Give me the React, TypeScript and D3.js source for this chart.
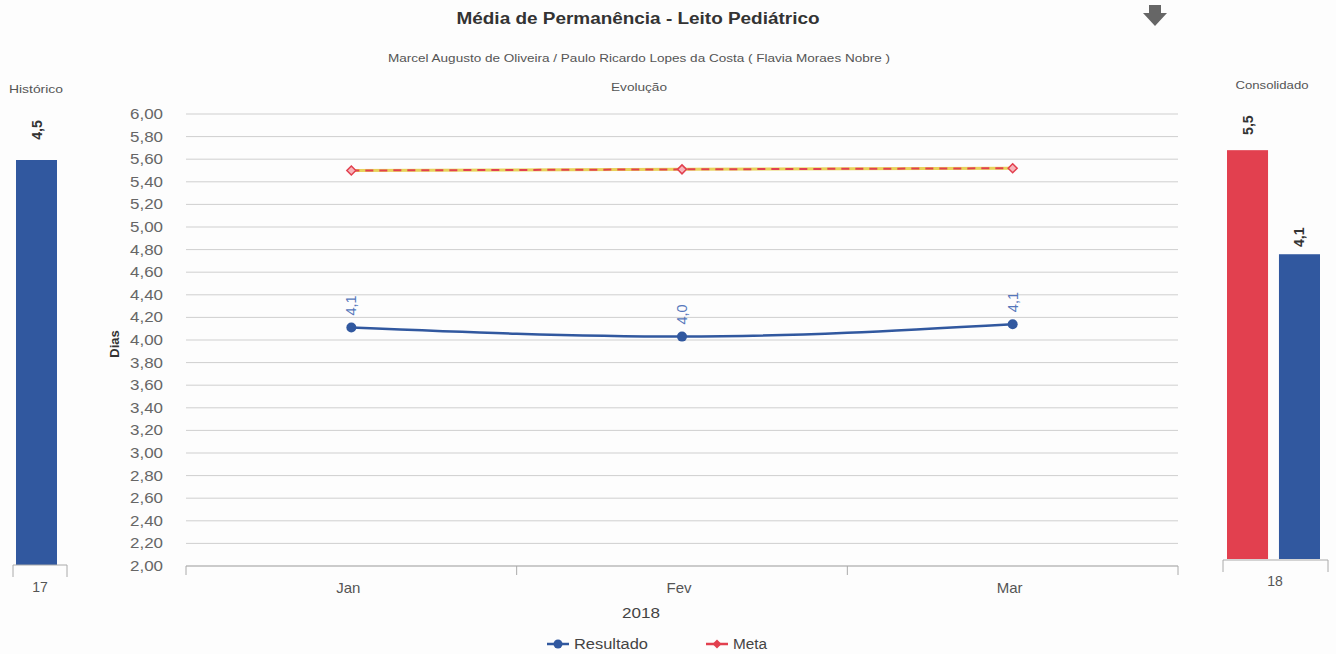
import React from "react";
import * as d3 from "d3";

const categories = ["Jan", "Fev", "Mar"];
const resultado = [4.11, 4.03, 4.14];
const meta = [5.5, 5.51, 5.52];
const resultadoLabels = ["4,1", "4,0", "4,1"];
const yTicks = [2.0, 2.2, 2.4, 2.6, 2.8, 3.0, 3.2, 3.4, 3.6, 3.8, 4.0, 4.2, 4.4, 4.6, 4.8, 5.0, 5.2, 5.4, 5.6, 5.8, 6.0];
const historicoCategory = ["17"];
const historicoValues = [4.5];
const historicoLabels = ["4,5"];
const consolidadoCategory = ["18"];
const consolidadoMeta = [5.5];
const consolidadoResultado = [4.1];
const consolidadoMetaLabels = ["5,5"];
const consolidadoResultadoLabels = ["4,1"];

const FONT = "'Liberation Sans', Arial, sans-serif";
const BLUE = "#31589f";
const RED = "#e2404f";
const TXT = "#555";

export default function App() {
  const W = 1336, H = 654;
  const left = 186, right = 1178, top = 114, bottom = 566;
  const x = d3.scaleBand<string>().domain(categories).range([left, right]);
  const y = d3.scaleLinear().domain([2, 6]).range([bottom, top]);
  const cx = (c: string) => (x(c) as number) + x.bandwidth() / 2;

  const line = d3.line<number>().x((_, i) => cx(categories[i])).y((v) => y(v)).curve(d3.curveMonotoneX);

  // Historico
  const hx = d3.scaleBand<string>().domain(historicoCategory).range([16, 57]).padding(0);
  const hy = d3.scaleLinear().domain([0, 5]).range([565, 115]);
  // Consolidado
  const cxs = d3.scaleBand<string>().domain(["Meta", "Resultado"]).range([1227, 1320]).paddingInner(0.21).paddingOuter(0);
  const cy = d3.scaleLinear().domain([0, 6]).range([559, 113]);

  const diamond = (px: number, py: number, r = 4) => `M${px},${py - r}L${px + r},${py}L${px},${py + r}L${px - r},${py}Z`;
  const xTicksPos = [left, ...categories.map((c) => (x(c) as number) + x.bandwidth())];

  const T = (props: any) => <text lengthAdjust="spacingAndGlyphs" {...props} />;

  return (
    <svg width={W} height={H} style={{ position: "absolute", left: 0, top: 0, background: "#fff" }} fontFamily={FONT}>
      <rect width={W} height={H} fill="#fdfdfd" />
      {/* Titles */}
      <T x={638} y={24} textAnchor="middle" fontSize={16} fontWeight="bold" fill="#333" textLength={363}>Média de Permanência - Leito Pediátrico</T>
      <T x={639} y={62} textAnchor="middle" fontSize={11} fill={TXT} textLength={502}>Marcel Augusto de Oliveira / Paulo Ricardo Lopes da Costa ( Flavia Moraes Nobre )</T>
      <T x={639} y={91} textAnchor="middle" fontSize={11} fill={TXT} textLength={56}>Evolução</T>
      <T x={36} y={93} textAnchor="middle" fontSize={11} fill={TXT} textLength={54}>Histórico</T>
      <T x={1272} y={89} textAnchor="middle" fontSize={11} fill={TXT} textLength={73}>Consolidado</T>
      {/* download arrow */}
      <path d="M1149,5 L1161,5 L1161,13 L1167,13 L1155,26 L1143,13 L1149,13 Z" fill="#666" />

      {/* gridlines */}
      {yTicks.map((t) => (
        <g key={t}>
          <line x1={left} x2={right} y1={y(t)} y2={y(t)} stroke={t === 2 ? "#999" : "#cfcfcf"} strokeWidth={1} />
          <T x={163} y={y(t) + 5} textAnchor="end" fontSize={14.5} fill="#666" textLength={33}>{t.toFixed(2).replace(".", ",")}</T>
        </g>
      ))}
      {/* x axis ticks */}
      {xTicksPos.map((p, i) => (
        <line key={i} x1={p} x2={p} y1={bottom} y2={bottom + 9} stroke="#aaa" />
      ))}
      {categories.map((c) => (
        <text key={c} x={cx(c) - 3} y={593} textAnchor="middle" fontSize={15} fill="#555">{c}</text>
      ))}
      <T x={641} y={618} textAnchor="middle" fontSize={15} fill="#444" textLength={38}>2018</T>
      <text transform={`translate(119,344) rotate(-90)`} textAnchor="middle" fontSize={13} fontWeight="bold" fill="#333">Dias</text>

      {/* Meta */}
      <path d={line(meta) as string} fill="none" stroke="#e8d25a" strokeWidth={3} />
      <path d={line(meta) as string} fill="none" stroke={RED} strokeWidth={2} strokeDasharray="8,6" />
      {meta.map((v, i) => (
        <path key={i} d={diamond(cx(categories[i]), y(v), 4.5)} fill="#f7b5bb" stroke={RED} strokeWidth={1.5} />
      ))}

      {/* Resultado */}
      <path d={line(resultado) as string} fill="none" stroke={BLUE} strokeWidth={2.5} />
      {resultado.map((v, i) => (
        <g key={i}>
          <circle cx={cx(categories[i])} cy={y(v)} r={5} fill={BLUE} />
          <text transform={`translate(${cx(categories[i]) + 5},${y(v) - 12}) rotate(-90)`} fontSize={14.5} fill="#5577bb">{resultadoLabels[i]}</text>
        </g>
      ))}

      {/* Historico bar */}
      {historicoValues.map((v, i) => {
        const bx = hx(historicoCategory[i]) as number;
        const bw = hx.bandwidth();
        return (
          <g key={i}>
            <rect x={bx} y={hy(v)} width={bw} height={565 - hy(v)} fill={BLUE} />
            <text transform={`translate(${bx + bw / 2 + 5},${hy(v) - 30}) rotate(-90)`} textAnchor="middle" fontSize={14} fontWeight="bold" fill="#333">{historicoLabels[i]}</text>
          </g>
        );
      })}
      <path d="M13,577 L13,565 L67,565 L67,577" fill="none" stroke="#aaa" />
      <text x={40} y={592} textAnchor="middle" fontSize={14} fill="#555">{historicoCategory[0]}</text>

      {/* Consolidado bars */}
      {[
        { k: "Meta", v: consolidadoMeta[0], c: RED, l: consolidadoMetaLabels[0], off: 25 },
        { k: "Resultado", v: consolidadoResultado[0], c: BLUE, l: consolidadoResultadoLabels[0], off: 17 },
      ].map((b) => {
        const bx = cxs(b.k) as number;
        const bw = cxs.bandwidth();
        return (
          <g key={b.k}>
            <rect x={bx} y={cy(b.v)} width={bw} height={559 - cy(b.v)} fill={b.c} />
            <text transform={`translate(${bx + bw / 2 + 5},${cy(b.v) - b.off}) rotate(-90)`} textAnchor="middle" fontSize={14} fontWeight="bold" fill="#333">{b.l}</text>
          </g>
        );
      })}
      <path d="M1223,572 L1223,560 L1328,560 L1328,572" fill="none" stroke="#aaa" />
      <text x={1275} y={586} textAnchor="middle" fontSize={14} fill="#555">{consolidadoCategory[0]}</text>

      {/* Legend */}
      <line x1={547} x2={569} y1={644} y2={644} stroke={BLUE} strokeWidth={2.5} />
      <circle cx={558} cy={644} r={4.5} fill={BLUE} />
      <T x={574} y={649} fontSize={14} fill="#444" textLength={74}>Resultado</T>
      <line x1={706} x2={728} y1={644} y2={644} stroke={RED} strokeWidth={2.5} />
      <path d={diamond(717, 644, 4.5)} fill={RED} />
      <T x={733} y={649} fontSize={14} fill="#444" textLength={34}>Meta</T>
    </svg>
  );
}
